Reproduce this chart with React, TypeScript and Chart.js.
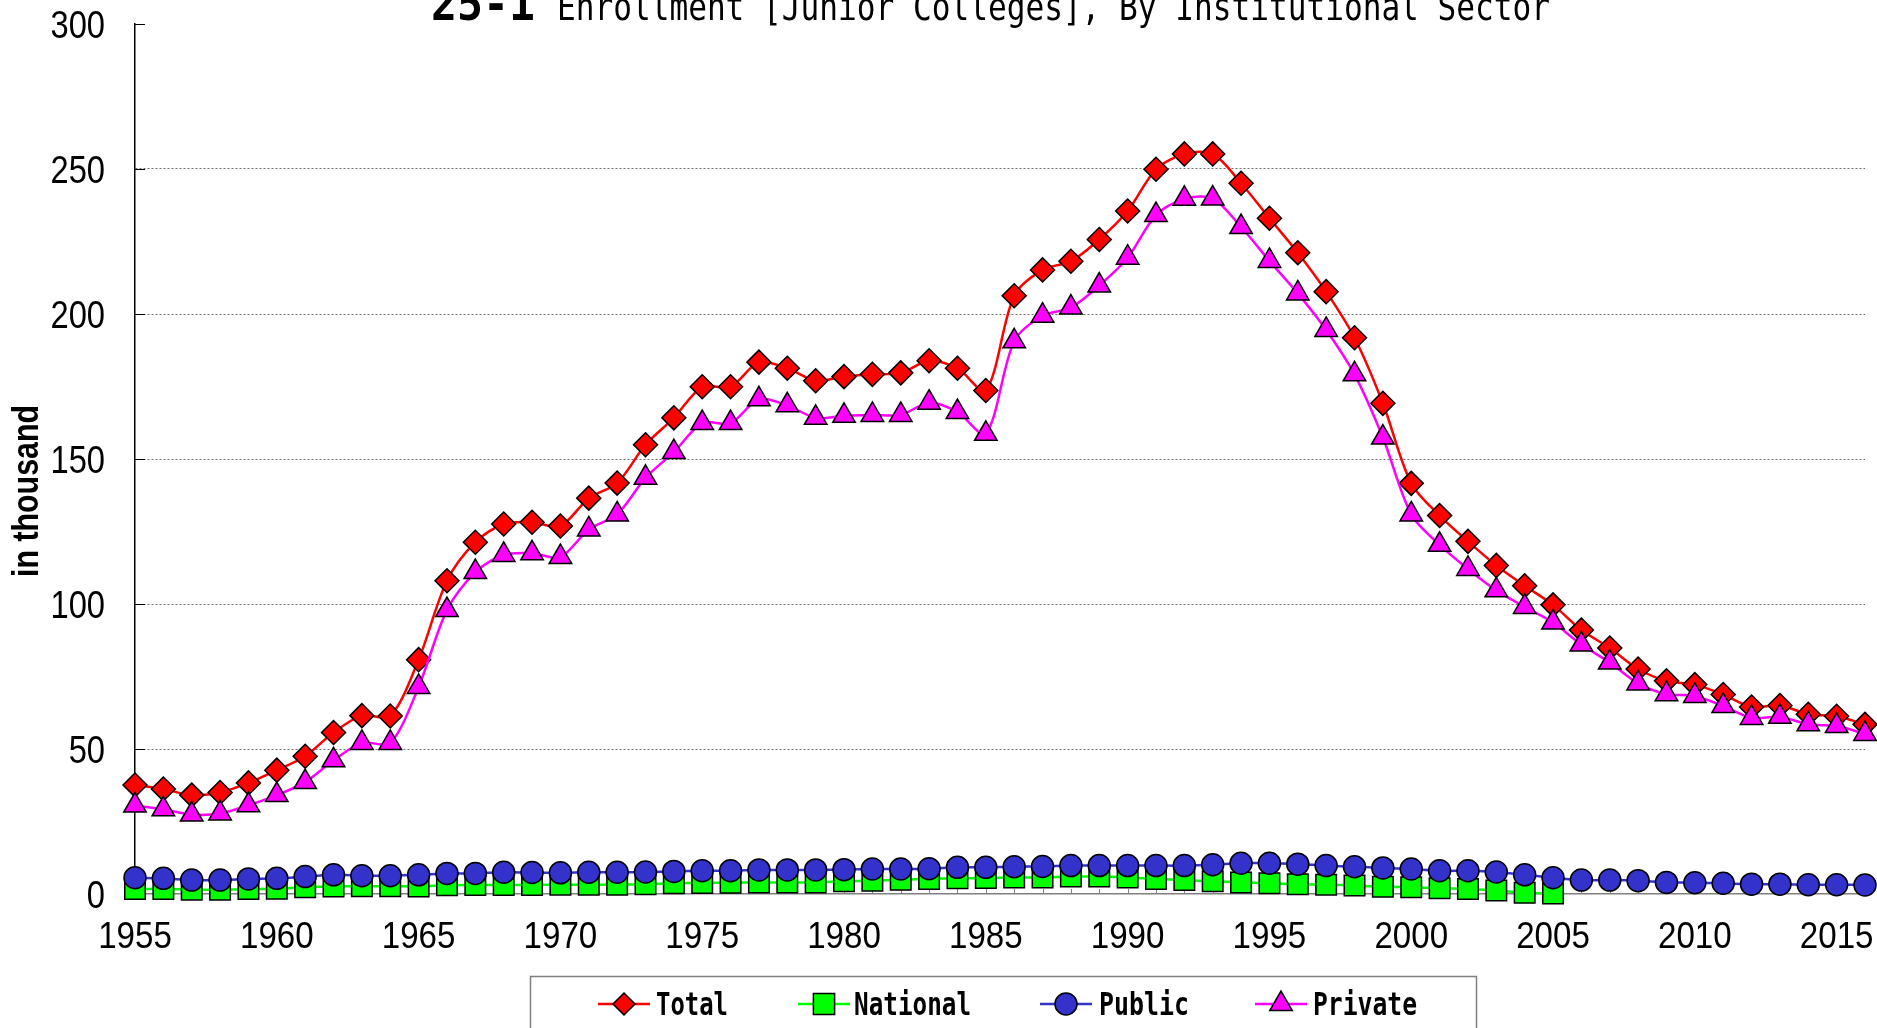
import { useEffect, useRef } from 'react';
import { Chart, registerables } from 'chart.js';

Chart.register(...registerables);

const years: number[] = [
  1955, 1956, 1957, 1958, 1959, 1960, 1961, 1962, 1963, 1964,
  1965, 1966, 1967, 1968, 1969, 1970, 1971, 1972, 1973, 1974,
  1975, 1976, 1977, 1978, 1979, 1980, 1981, 1982, 1983, 1984,
  1985, 1986, 1987, 1988, 1989, 1990, 1991, 1992, 1993, 1994,
  1995, 1996, 1997, 1998, 1999, 2000, 2001, 2002, 2003, 2004,
  2005, 2006, 2007, 2008, 2009, 2010, 2011, 2012, 2013, 2014,
  2015, 2016,
];

const totalValues: number[] = [
  37.6, 36.2, 34.1, 35.0, 38.3, 42.7, 47.5, 55.7, 61.5, 61.4,
  80.8, 108.0, 121.3, 127.6, 128.2, 126.9, 136.5, 141.7, 154.9, 164.2,
  174.9, 174.9, 183.4, 181.3, 177.0, 178.4, 179.2, 179.7, 183.9, 181.3,
  173.6, 206.3, 215.2, 218.2, 225.7, 235.5, 249.9, 255.2, 255.2, 245.1,
  233.0, 221.1, 207.7, 191.8, 169.2, 141.6, 130.5, 121.6, 113.3, 106.3,
  99.7, 91.0, 84.8, 77.6, 73.5, 72.2, 68.8, 64.5, 65.0, 62.0,
  61.3, 58.5,
];

const nationalValues: (number | null)[] = [
  1.7, 1.7, 1.5, 1.5, 1.7, 1.8, 2.3, 2.6, 2.7, 2.7,
  2.6, 3.0, 3.1, 3.1, 3.1, 3.2, 3.2, 3.2, 3.4, 3.7,
  3.8, 3.9, 4.0, 4.0, 4.0, 4.4, 4.6, 4.9, 5.2, 5.4,
  5.5, 5.7, 5.7, 6.0, 6.0, 5.7, 5.2, 4.8, 4.4, 4.0,
  3.7, 3.4, 3.2, 2.9, 2.5, 2.3, 2.0, 1.7, 1.2, 0.4,
  0.2, null, null, null, null, null, null, null, null, null,
  null, null,
];

const publicValues: number[] = [
  5.6, 5.4, 4.8, 4.8, 5.2, 5.4, 6.0, 6.6, 6.3, 6.3,
  6.6, 7.1, 7.1, 7.5, 7.4, 7.3, 7.5, 7.5, 7.6, 7.8,
  8.0, 8.0, 8.3, 8.3, 8.3, 8.4, 8.6, 8.6, 8.7, 9.2,
  9.2, 9.4, 9.5, 9.8, 9.8, 9.8, 9.8, 9.8, 10.1, 10.6,
  10.6, 10.3, 9.8, 9.4, 9.0, 8.6, 8.0, 8.0, 7.6, 6.6,
  5.6, 4.8, 4.8, 4.6, 4.0, 3.9, 3.7, 3.4, 3.4, 3.2,
  3.2, 3.1,
];

const privateValues: number[] = [
  30.5, 29.2, 27.4, 27.8, 30.6, 34.1, 38.6, 46.1, 52.1, 52.1,
  71.4, 97.9, 111.0, 116.9, 117.5, 116.2, 125.7, 130.9, 143.5, 152.4,
  162.4, 162.4, 170.6, 168.5, 164.2, 164.9, 165.2, 165.2, 169.4, 166.2,
  158.7, 190.6, 199.4, 202.2, 209.8, 219.4, 234.1, 239.7, 239.8, 230.0,
  218.3, 207.1, 194.5, 179.2, 157.4, 130.9, 120.4, 112.1, 104.7, 99.0,
  93.6, 86.0, 79.8, 72.6, 68.9, 68.3, 64.8, 60.7, 61.1, 58.5,
  57.9, 55.2,
];

const yTicks: number[] = [0, 50, 100, 150, 200, 250, 300];

const seriesNames: string[] = ['Total', 'National', 'Public', 'Private'];
const titleNumber = '25-1';
const titleText = 'Enrollment [Junior Colleges], By Institutional Sector';
const yAxisTitle = 'in thousand';

const COLORS = ['#FF0000', '#00FF00', '#3333CC', '#FF00FF'];
const SHAPES = ['rectRot', 'rect', 'circle', 'triangle'];

function drawMarker(ctx: CanvasRenderingContext2D, shape: string, x: number, y: number, r: number, fill: string) {
  ctx.save();
  ctx.fillStyle = fill;
  ctx.strokeStyle = '#000';
  ctx.lineWidth = 1.5;
  ctx.beginPath();
  if (shape === 'rectRot') {
    ctx.moveTo(x, y - r);
    ctx.lineTo(x + r, y);
    ctx.lineTo(x, y + r);
    ctx.lineTo(x - r, y);
    ctx.closePath();
  } else if (shape === 'rect') {
    const s = r * Math.SQRT1_2;
    ctx.rect(x - s, y - s, 2 * s, 2 * s);
  } else if (shape === 'circle') {
    ctx.arc(x, y, r, 0, Math.PI * 2);
  } else {
    ctx.moveTo(x, y - r);
    ctx.lineTo(x + r * Math.sin((2 * Math.PI) / 3), y + r * 0.5);
    ctx.lineTo(x - r * Math.sin((2 * Math.PI) / 3), y + r * 0.5);
    ctx.closePath();
  }
  ctx.fill();
  ctx.stroke();
  ctx.restore();
}

function fitText(ctx: CanvasRenderingContext2D, text: string, x: number, y: number, font: string, width: number) {
  ctx.save();
  ctx.font = font;
  ctx.textAlign = 'left';
  ctx.textBaseline = 'alphabetic';
  const w = ctx.measureText(text).width;
  ctx.translate(x, y);
  ctx.scale(width / w, 1);
  ctx.fillStyle = '#000';
  ctx.fillText(text, 0, 0);
  ctx.restore();
}

function scaledText(ctx: CanvasRenderingContext2D, text: string, x: number, y: number, font: string, sx: number, align: CanvasTextAlign) {
  ctx.save();
  ctx.font = font;
  ctx.textAlign = align;
  ctx.textBaseline = 'alphabetic';
  ctx.translate(x, y);
  ctx.scale(sx, 1);
  ctx.fillStyle = '#000';
  ctx.fillText(text, 0, 0);
  ctx.restore();
}

const decorPlugin = {
  id: 'decor',
  beforeDatasetsDraw(chart: any) {
    const { ctx, chartArea, scales } = chart;
    const x = scales.x;
    const y = scales.y;
    ctx.save();
    ctx.strokeStyle = '#808080';
    ctx.lineWidth = 1;
    for (let i = 0; i < years.length; i++) {
      const px = Math.round(x.getPixelForValue(i)) + 0.5;
      ctx.beginPath();
      ctx.moveTo(px, chartArea.bottom);
      ctx.lineTo(px, chartArea.bottom - 5);
      ctx.stroke();
    }
    ctx.strokeStyle = '#000';
    for (const v of yTicks) {
      const py = Math.round(y.getPixelForValue(v)) + 0.5;
      ctx.beginPath();
      ctx.moveTo(chartArea.left, py);
      ctx.lineTo(chartArea.left + 10, py);
      ctx.stroke();
    }
    ctx.restore();
  },
  afterDraw(chart: any) {
    const { ctx, scales, chartArea } = chart;
    const x = scales.x;
    const y = scales.y;

    for (let i = 0; i < x.ticks.length; i++) {
      const idx = x.ticks[i].value;
      const lab = x.getLabelForValue(idx);
      if (Number(lab) % 5 !== 0) continue;
      scaledText(ctx, lab, x.getPixelForValue(idx), chartArea.bottom + 54, '36px "Liberation Sans"', 0.92, 'center');
    }
    for (const t of y.ticks) {
      const py = y.getPixelForValue(t.value);
      scaledText(ctx, String(t.value), 105, py + 13.5, '38px "Liberation Sans"', 0.86, 'right');
    }

    fitText(ctx, titleNumber, 431, 20, 'bold 48px "DejaVu Sans Mono"', 104);
    fitText(ctx, titleText, 557, 20, '38px "DejaVu Sans Mono"', 993);

    ctx.save();
    ctx.translate(38, 577);
    ctx.rotate(-Math.PI / 2);
    fitText(ctx, yAxisTitle, 0, 0, 'bold 36px "Liberation Sans"', 172);
    ctx.restore();

    ctx.save();
    ctx.strokeStyle = '#808080';
    ctx.lineWidth = 1.5;
    ctx.strokeRect(530.5, 976.5, 946, 80);
    ctx.restore();

    const markerX = [624, 824, 1066, 1281];
    const textX = [656, 854, 1099, 1313];
    const textW = [72, 117, 90, 104];
    const radii = [11, 15, 11, 13];
    const ly = 1004;
    for (let i = 0; i < 4; i++) {
      ctx.save();
      ctx.strokeStyle = COLORS[i];
      ctx.lineWidth = 2.5;
      ctx.beginPath();
      ctx.moveTo(markerX[i] - 26, ly);
      ctx.lineTo(markerX[i] + 26, ly);
      ctx.stroke();
      ctx.restore();
      drawMarker(ctx, SHAPES[i], markerX[i], ly, radii[i], COLORS[i]);
      fitText(ctx, seriesNames[i], textX[i], 1015, 'bold 32px "DejaVu Sans Mono"', textW[i]);
    }
  },
};

export default function App() {
  const ref = useRef<HTMLCanvasElement>(null);

  useEffect(() => {
    document.body.style.margin = '0';
    const canvas = ref.current;
    if (!canvas) return;

    const mk = (i: number, data: (number | null)[], radius: number, order: number) => ({
      label: seriesNames[i],
      data,
      borderColor: COLORS[i],
      backgroundColor: COLORS[i],
      borderWidth: 2.5,
      pointStyle: SHAPES[i],
      pointRadius: radius,
      pointHoverRadius: radius,
      pointBackgroundColor: COLORS[i],
      pointBorderColor: '#000',
      pointBorderWidth: 1.5,
      tension: 0.3,
      clip: false,
      spanGaps: false,
      order,
    });

    const chart = new Chart(canvas, {
      type: 'line',
      data: {
        labels: years.map(String),
        datasets: [
          mk(0, totalValues, 12, 3),
          mk(1, nationalValues, 14.5, 2),
          mk(2, publicValues, 11, 1),
          mk(3, privateValues, 13, 0),
        ] as any,
      },
      options: {
        responsive: false,
        animation: false,
        events: [],
        layout: { autoPadding: false, padding: { top: 24, right: 12, bottom: 0, left: 0 } },
        plugins: {
          legend: { display: false },
          title: { display: false },
          tooltip: { enabled: false },
        },
        scales: {
          x: {
            type: 'category',
            offset: false,
            grid: { display: false, drawTicks: false },
            border: { display: true, color: '#808080', width: 1.5 },
            ticks: { display: false, autoSkip: false, maxRotation: 0, minRotation: 0 },
            afterFit: (scale: any) => {
              scale.height = 134;
            },
          },
          y: {
            min: 0,
            max: 300,
            grid: {
              drawTicks: false,
              color: (c: any) => (c.tick && (c.tick.value === 0 || c.tick.value === 300) ? 'rgba(0,0,0,0)' : '#6e6e6e'),
              lineWidth: 1,
            },
            border: { display: true, color: '#000', width: 1.5, dash: [2, 2] },
            ticks: { display: false, stepSize: 50 },
            afterFit: (scale: any) => {
              scale.width = 135;
            },
          },
        },
      },
      plugins: [decorPlugin],
    } as any);

    return () => chart.destroy();
  }, []);

  return (
    <div style={{ width: 1877, height: 1028, position: 'relative', overflow: 'hidden' }}>
      <canvas ref={ref} width={1877} height={1028} style={{ display: 'block' }} />
    </div>
  );
}
